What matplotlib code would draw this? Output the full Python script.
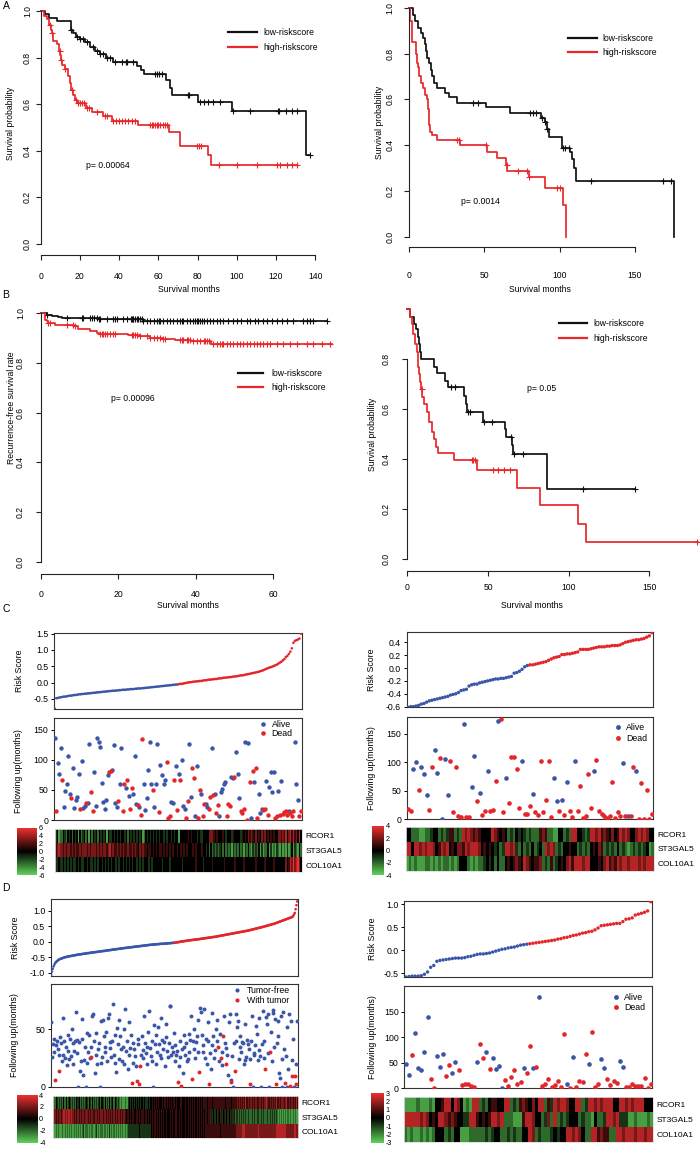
import numpy as np
import matplotlib
matplotlib.use('Agg')
import matplotlib.pyplot as plt
from matplotlib.colors import LinearSegmentedColormap
from matplotlib.lines import Line2D

plt.rcParams['font.family'] = ['Liberation Sans', 'DejaVu Sans']
plt.rcParams['axes.unicode_minus'] = False

# ---------------- Kaplan-Meier data (A, B) ----------------
a1_low_t = [0, 2, 4, 8.5, 15.3, 16.3, 18, 20, 22.6, 25.1, 27.7, 30.2, 33.3, 36.7, 48.9, 51, 52.7, 63.7, 65.9, 66.9, 80, 97.3, 135.2]
a1_low_s = [1.0, 0.985, 0.97, 0.955, 0.92, 0.905, 0.89, 0.88, 0.865, 0.845, 0.83, 0.815, 0.80, 0.78, 0.765, 0.745, 0.73, 0.705, 0.67, 0.64, 0.61, 0.57, 0.38]
a1_low_end = 137.3
a1_low_cens = [15.3, 18.7, 20, 21.4, 23.8, 26.8, 28.5, 30.2, 31.9, 33.6, 35.4, 37.9, 41.3, 43.5, 43.9, 47.2, 58.3, 59.1, 60.1, 61.7,
               75.3, 75.8, 81.2, 83.3, 85.5, 88, 91.4, 98.2, 106.7, 120.8, 121.5, 125, 128.3, 130.5, 137.3]
a1_high_t = [0, 1.7, 3, 4.4, 5, 5.6, 6.1, 8.2, 9.5, 10, 10.4, 11, 12.4, 14.1, 15, 15.5, 16.6, 17.5, 18.7, 23.1, 26, 32, 36.2, 49.8, 65.4, 71, 85.5, 86.6]
a1_high_s = [1.0, 0.98, 0.965, 0.94, 0.92, 0.905, 0.87, 0.86, 0.83, 0.81, 0.79, 0.77, 0.75, 0.72, 0.69, 0.66, 0.64, 0.62, 0.605, 0.585, 0.565, 0.55, 0.53, 0.51, 0.48, 0.42, 0.38, 0.34]
a1_high_end = 130.5
a1_high_cens = [4.6, 5.8, 9.6, 10.6, 12.5, 15.8, 18, 19.2, 20, 20.9, 22.3, 23.8, 24.8, 28.5, 32.8, 34, 37, 38.4, 39.9, 41.5, 43, 44.7,
                46.4, 48.1, 55.7, 56.6, 57.4, 58.3, 59.1, 60, 60.8, 62.2, 63.4, 64.2, 79.5, 80.7, 81.7, 91.1, 99.9, 110.1, 120.3,
                122, 125.4, 127.9, 130.5]

a2_low_t = [0, 3.1, 4.4, 6, 8.4, 9.7, 10.6, 11.5, 12, 13.5, 14.8, 15.7, 16.8, 18.6, 24, 27, 32.3, 51, 67, 87.7, 90, 91.5, 92.8, 101.4, 107, 108.5, 109.5, 110.7, 175.8]
a2_low_s = [1.0, 0.97, 0.94, 0.91, 0.89, 0.87, 0.84, 0.81, 0.78, 0.76, 0.73, 0.70, 0.67, 0.65, 0.63, 0.61, 0.585, 0.565, 0.54, 0.52, 0.50, 0.47, 0.435, 0.39, 0.37, 0.34, 0.30, 0.245, 0.0]
a2_low_end = 175.8
a2_low_cens = [42.9, 46.2, 80.4, 82.2, 84.4, 88.1, 90.3, 91.9, 102.1, 103.4, 106.5, 120.8, 168.3, 173.6]
a2_high_t = [0, 0.7, 2.2, 4.9, 5.3, 6.4, 6.8, 7.9, 9.7, 10.6, 11.9, 12.8, 13.5, 13.7, 14.1, 15.2, 19.0, 34.0, 51.7, 58.3, 64.6, 65.4, 79.7, 90.3, 102.3, 104.3]
a2_high_s = [1.0, 0.94, 0.85, 0.80, 0.76, 0.74, 0.70, 0.67, 0.65, 0.62, 0.60, 0.56, 0.52, 0.49, 0.46, 0.445, 0.425, 0.40, 0.37, 0.345, 0.315, 0.29, 0.26, 0.215, 0.14, 0.0]
a2_high_end = 104.3
a2_high_cens = [31.8, 33.4, 51, 65, 72.2, 78.6, 80, 98, 100.3]

b1_low_t = [0, 1.5, 3, 4.5, 5.5, 15, 26.3]
b1_low_s = [1.0, 0.995, 0.99, 0.985, 0.98, 0.977, 0.97]
b1_low_end = 73.8
b1_low_cens = [1.5, 6.7, 10.6, 10.8, 12.7, 13.2, 13.8, 14.6, 15.1, 15.3, 17, 18.7, 19.2, 19.6, 21.3, 22.2, 23.2, 23.5, 23.7, 23.9,
               24.3, 24.8, 25.2, 25.6, 26.1, 26.5, 27.3, 28.2, 29.1, 29.9, 30.4, 30.8, 31.6, 32.5, 33.4, 34.2, 35.1, 35.9, 36.4,
               36.8, 37.7, 38.5, 39.4, 39.8, 40.2, 40.7, 41.1, 41.5, 42, 42.8, 43.7, 44.5, 45.4, 46.3, 47.1, 48.4, 49.7, 50.7,
               51.8, 53.1, 54, 55.3, 56.1, 57.4, 58.3, 59.6, 60.9, 62.2, 63.5, 65.2, 67.6, 68.6, 69.5, 70.3, 73.8]
b1_high_t = [0, 1.1, 1.5, 2.0, 3.7, 8.6, 9.7, 12.7, 14.4, 15.1, 22.6, 25.6, 28.2, 31.6, 34.7, 38.7, 43.9]
b1_high_s = [1.0, 0.975, 0.97, 0.962, 0.953, 0.949, 0.936, 0.93, 0.922, 0.917, 0.912, 0.907, 0.902, 0.896, 0.891, 0.889, 0.875]
b1_high_end = 75.2
b1_high_cens = [2, 2.4, 6.7, 8.4, 8.9, 15.3, 15.7, 16.2, 16.6, 17, 17.9, 18.7, 19.2, 23.5, 23.9, 24.3, 24.8, 25.6, 27.3, 28.2,
                29.1, 29.9, 30.8, 31.6, 32.1, 35.9, 36.4, 36.8, 37.7, 38.1, 38.5, 39.4, 40.2, 41.1, 42, 42.4, 42.8, 43.3, 44.5,
                45.4, 46.3, 46.7, 47.1, 48, 48.8, 49.7, 50.6, 51.4, 52.3, 53.1, 54, 54.9, 55.7, 56.6, 57.4, 58.3, 59.2, 60.9,
                62.6, 64.3, 66, 68.6, 70.3, 72.5, 74.6]

b2_low_t = [0, 1.7, 4.1, 5.4, 6.4, 7.4, 7.9, 8.5, 16.7, 18.2, 23.3, 25.4, 35.3, 36.2, 36.8, 46.7, 60.5, 61.2, 64.7, 65.5, 86.8]
b2_low_s = [1.0, 0.97, 0.94, 0.92, 0.89, 0.86, 0.83, 0.80, 0.77, 0.745, 0.715, 0.69, 0.655, 0.62, 0.59, 0.55, 0.52, 0.49, 0.455, 0.42, 0.28]
b2_low_end = 141.1
b2_low_cens = [26.9, 29.5, 37.4, 38.6, 47.5, 52.3, 64.3, 65.9, 71.9, 109.1, 141.1]
b2_high_t = [0, 1.7, 2.7, 3.7, 4.8, 5.8, 6.4, 6.8, 7.4, 7.9, 8.3, 9.3, 10.3, 12, 13.6, 15.1, 16.5, 17.8, 19.2, 28.9, 43, 67.8, 82.2, 106, 110.7]
b2_high_s = [1.0, 0.97, 0.94, 0.90, 0.86, 0.83, 0.80, 0.77, 0.74, 0.71, 0.68, 0.65, 0.62, 0.59, 0.55, 0.51, 0.48, 0.45, 0.425, 0.395, 0.355, 0.285, 0.215, 0.14, 0.07]
b2_high_end = 180.4
b2_high_cens = [8.9, 39.9, 40.9, 41.9, 52.9, 56.4, 59.9, 63.6, 179.3]

km_labels = ['low-riskscore', 'high-riskscore']

# ---------------- Risk score panels (C, D) ----------------
genes = ['RCOR1', 'ST3GAL5', 'COL10A1']

c1_risk = [-0.80, -0.48, -0.47, -0.46, -0.45, -0.44, -0.43, -0.43, -0.42, -0.41,
           -0.40, -0.40, -0.39, -0.38, -0.38, -0.37, -0.36, -0.36, -0.35, -0.35,
           -0.34, -0.34, -0.33, -0.33, -0.32, -0.32, -0.31, -0.31, -0.30, -0.30,
           -0.29, -0.29, -0.28, -0.28, -0.27, -0.27, -0.26, -0.26, -0.25, -0.25,
           -0.25, -0.24, -0.24, -0.23, -0.23, -0.22, -0.22, -0.22, -0.21, -0.21,
           -0.20, -0.20, -0.20, -0.19, -0.19, -0.18, -0.18, -0.18, -0.17, -0.17,
           -0.16, -0.16, -0.15, -0.15, -0.14, -0.14, -0.13, -0.13, -0.12, -0.12,
           -0.11, -0.11, -0.10, -0.10, -0.09, -0.09, -0.08, -0.08, -0.07, -0.07,
           -0.06, -0.06, -0.05, -0.04, -0.04, -0.03, -0.02, -0.01, 0.00, 0.01,
           0.01, 0.02, 0.03, 0.03, 0.04, 0.04, 0.05, 0.05, 0.06, 0.07,
           0.07, 0.08, 0.09, 0.09, 0.10, 0.10, 0.11, 0.11, 0.12, 0.13,
           0.13, 0.14, 0.15, 0.15, 0.16, 0.16, 0.17, 0.17, 0.18, 0.19,
           0.19, 0.20, 0.21, 0.22, 0.22, 0.23, 0.24, 0.25, 0.26, 0.27,
           0.28, 0.29, 0.30, 0.31, 0.32, 0.33, 0.35, 0.36, 0.38, 0.40,
           0.42, 0.44, 0.46, 0.47, 0.49, 0.51, 0.53, 0.55, 0.58, 0.61,
           0.64, 0.68, 0.72, 0.78, 0.82, 0.88, 0.95, 1.05, 1.22, 1.28,
           1.30, 1.32, 1.35, 1.50]
c1_time = [137, 15, 95, 76, 120, 66, 22, 48, 59, 107,
           43, 36, 86, 20, 33, 38, 76, 18, 98, 20,
           24, 28, 29, 127, 47, 15, 80, 24, 137, 130,
           121, 61, 30, 18, 33, 75, 79, 81, 83, 124,
           28, 22, 32, 59, 120, 15, 59, 54, 66, 40,
           18, 53, 44, 106, 27, 25, 22, 9, 135, 59,
           17, 37, 83, 130, 59, 50, 22, 59, 126, 14,
           92, 75, 60, 67, 96, 3, 7, 30, 28, 66,
           90, 17, 76, 66, 100, 23, 19, 3, 31, 126,
           38, 86, 70, 6, 90, 3, 50, 43, 6, 26,
           27, 22, 19, 38, 120, 42, 43, 11, 25, 6,
           46, 51, 59, 63, 6, 26, 23, 72, 69, 72,
           113, 77, 37, 15, 11, 18, 129, 0, 128, 63,
           4, 81, 63, 86, 4, 44, 11, 18, 17, 18,
           64, 9, 55, 79, 46, 79, 3, 6, 48, 8,
           64, 10, 14, 15, 9, 15, 11, 6, 15, 130,
           59, 33, 6, 15]
c1_status = ("0100010000 0100000100 0100110000 0000001100 0010011010 1100010110 0000010001 0000111001 "
             "0101000110 0110011011 0011010110 0000111001 0001110101 0101100011 0100001101 0111101110 0011")
c1_heat = ["3412243243 4243414234 2414243424 3434143343 4343443424 3434343412 4343434343 4434344343 4414444454 5444343344 "
           "4466654544 4543444354 4443545465 6546454656 4545454466 5657467575 6474",
           "5676656566 5656556566 6565666565 6566567565 5656565565 5656546565 5455454545 5454545454 4545454544 4545444544 "
           "3424232323 4242323132 3242313242 1323241312 2413121321 3121312413 2142",
           "3343343434 3433434334 4343343434 4343434344 3434434343 4344343434 4434344444 4344443444 4444344444 4445444434 "
           "4444544444 4454444445 4444454444 4445444445 4444454444 4446457686 7864"]

c2_risk = [-0.61, -0.60, -0.60, -0.59, -0.58, -0.56, -0.55, -0.53, -0.51, -0.50,
           -0.49, -0.48, -0.47, -0.46, -0.45, -0.44, -0.42, -0.41, -0.40, -0.38,
           -0.35, -0.34, -0.33, -0.28, -0.26, -0.25, -0.25, -0.23, -0.22, -0.21,
           -0.20, -0.19, -0.18, -0.17, -0.17, -0.16, -0.16, -0.15, -0.14, -0.13,
           -0.08, -0.07, -0.05, -0.02, 0.02, 0.04,
           0.05, 0.05, 0.06, 0.07, 0.08, 0.09, 0.10, 0.12, 0.14, 0.16,
           0.17, 0.18, 0.21, 0.21, 0.22, 0.22, 0.23, 0.24, 0.25, 0.29,
           0.29, 0.29, 0.29, 0.30, 0.31, 0.32, 0.33, 0.33, 0.33, 0.34,
           0.34, 0.35, 0.35, 0.35, 0.36, 0.38, 0.40, 0.41, 0.42, 0.43,
           0.44, 0.44, 0.45, 0.46, 0.48, 0.50, 0.55]
c2_time = [18, 14, 89, 101, 52, 92, 80, 43, 17, 92,
           121, 81, 108, 0, 105, 43, 102, 12, 92, 6,
           4, 167, 4, 4, 57, 111, 32, 46, 8, 15,
           85, 14, 16, 67, 173, 176, 12, 72, 28, 109,
           110, 88, 19, 102, 10, 10, 24, 45, 13, 8,
           103, 12, 33, 102, 4, 72, 32, 14, 33, 7,
           65, 14, 4, 102, 14, 58, 2, 5, 79, 19,
           85, 104, 15, 9, 5, 2, 6, 65, 2, 12,
           5, 98, 5, 5, 5, 91, 85, 0, 64, 0,
           52, 0, 10]
c2_status = "1100100011 0010001111 1011001011 0111011011 1110111011 1111100101 0110111111 0111111111 1010110111 111"
c2_heat = ["44 222 11 223 44 2323 55 232 7676 565 4444 76 5454 232 4343 23222 565 22 11 44 232 77 44 323 7767 565 4645 7676 44 67676 44",
           "77 4 77676776 45 767 4546 65767 776 4545 43423 7767 32423242342 7676 232 44544 23232 45465 2323242321232323412",
           "12121112212121221212 444 2121223 43424 22 454565476545 56232523 4546757 77677 44454 6756576 776777676777"]

d1_risk = [-1.08, -0.97, -0.88, -0.80, -0.74, -0.69, -0.66, -0.63, -0.61, -0.59,
           -0.57, -0.56, -0.55, -0.54, -0.53, -0.52, -0.51, -0.50, -0.50, -0.49,
           -0.48, -0.48, -0.47, -0.47, -0.46, -0.46, -0.45, -0.45, -0.44, -0.44,
           -0.43, -0.43, -0.42, -0.42, -0.41, -0.41, -0.41, -0.40, -0.40, -0.39,
           -0.39, -0.39, -0.38, -0.38, -0.37, -0.37, -0.37, -0.36, -0.36, -0.35,
           -0.35, -0.35, -0.34, -0.34, -0.34, -0.33, -0.33, -0.33, -0.32, -0.32,
           -0.31, -0.31, -0.31, -0.30, -0.30, -0.30, -0.29, -0.29, -0.28, -0.28,
           -0.28, -0.27, -0.27, -0.27, -0.26, -0.26, -0.25, -0.25, -0.25, -0.24,
           -0.24, -0.24, -0.23, -0.23, -0.23, -0.22, -0.22, -0.21, -0.21, -0.21,
           -0.20, -0.20, -0.20, -0.19, -0.19, -0.19, -0.18, -0.18, -0.18, -0.17,
           -0.17, -0.17, -0.16, -0.16, -0.16, -0.15, -0.15, -0.15, -0.14, -0.14,
           -0.14, -0.13, -0.13, -0.13, -0.12, -0.12, -0.12, -0.11, -0.11, -0.11,
           -0.10, -0.10, -0.10, -0.10, -0.09, -0.09, -0.09, -0.09, -0.08, -0.08,
           -0.08, -0.08, -0.07, -0.07, -0.07, -0.07, -0.07, -0.06, -0.06, -0.06,
           -0.06, -0.06, -0.05, -0.05, -0.05, -0.05, -0.04, -0.04, -0.04, -0.04,
           -0.03, -0.03, -0.02, -0.02, -0.02, -0.01, -0.01, 0.00, 0.00, 0.01,
           0.01, 0.01, 0.02, 0.02, 0.03, 0.03, 0.03, 0.04, 0.04, 0.05,
           0.05, 0.05, 0.06, 0.06, 0.06, 0.07, 0.07, 0.07, 0.08, 0.08,
           0.08, 0.09, 0.09, 0.10, 0.10, 0.10, 0.11, 0.11, 0.12, 0.12,
           0.12, 0.13, 0.13, 0.13, 0.14, 0.14, 0.15, 0.15, 0.15, 0.16,
           0.16, 0.17, 0.17, 0.18, 0.18, 0.19, 0.19, 0.20, 0.20, 0.21,
           0.21, 0.22, 0.22, 0.23, 0.23, 0.24, 0.24, 0.25, 0.25, 0.26,
           0.26, 0.27, 0.27, 0.28, 0.28, 0.29, 0.29, 0.30, 0.30, 0.31,
           0.31, 0.32, 0.32, 0.33, 0.33, 0.34, 0.34, 0.35, 0.35, 0.36,
           0.36, 0.37, 0.38, 0.38, 0.39, 0.40, 0.40, 0.41, 0.42, 0.42,
           0.43, 0.44, 0.44, 0.45, 0.46, 0.46, 0.47, 0.48, 0.48, 0.49,
           0.50, 0.51, 0.51, 0.52, 0.53, 0.54, 0.54, 0.55, 0.56, 0.57,
           0.57, 0.58, 0.59, 0.60, 0.61, 0.62, 0.63, 0.64, 0.65, 0.66,
           0.67, 0.68, 0.69, 0.70, 0.71, 0.72, 0.73, 0.74, 0.75, 0.76,
           0.77, 0.78, 0.79, 0.80, 0.83, 0.88, 0.93, 1.05, 1.18, 1.30]
d1_time = [56, 26, 37, 30, 42, 6, 36, 40, 33, 28,
           14, 43, 38, 22, 28, 60, 40, 25, 35, 19,
           45, 31, 24, 42, 27, 50, 20, 38, 31, 40,
           65, 29, 41, 0, 39, 14, 22, 42, 59, 10,
           23, 35, 0, 47, 21, 30, 45, 25, 35, 26,
           62, 63, 40, 12, 28, 47, 20, 33, 38, 0,
           57, 21, 26, 58, 44, 35, 30, 48, 22, 60,
           63, 34, 39, 26, 40, 72, 28, 21, 45, 13,
           51, 37, 24, 58, 44, 33, 22, 35, 20, 50,
           68, 31, 40, 15, 28, 56, 34, 45, 3, 21,
           38, 33, 27, 18, 5, 37, 42, 2, 18, 28,
           44, 25, 32, 62, 38, 29, 20, 35, 48, 66,
           34, 27, 40, 22, 0, 54, 37, 20, 45, 30,
           52, 37, 28, 60, 25, 41, 33, 39, 18, 55,
           43, 31, 26, 38, 70, 70, 28, 35, 30, 47,
           22, 36, 28, 31, 4, 18, 40, 26, 1, 33,
           12, 45, 35, 28, 38, 22, 24, 46, 30, 41,
           62, 7, 40, 50, 33, 25, 39, 44, 30, 58,
           13, 69, 65, 45, 36, 30, 68, 25, 42, 20,
           40, 56, 2, 29, 15, 36, 64, 44, 25, 32,
           50, 58, 40, 35, 22, 46, 25, 19, 30, 44,
           62, 38, 34, 20, 28, 10, 56, 63, 4, 6,
           27, 0, 38, 14, 40, 63, 52, 57, 24, 35,
           44, 30, 39, 38, 20, 55, 23, 26, 41, 37,
           33, 24, 2, 40, 62, 0, 29, 28, 36, 53,
           46, 23, 32, 60, 27, 0, 37, 66, 40, 25,
           15, 61, 55, 63, 29, 0, 30, 48, 22, 64,
           67, 35, 59, 2, 38, 44, 57, 12, 8, 62,
           24, 0, 65, 33, 3, 27, 0, 52, 15, 63,
           1, 57, 23, 9, 42, 0, 9, 20, 2, 57]
d1_status = ("0000010000 1000000000 0000000000 0000000000 0000000001 0000000000 0000000000 0000000000 0000000000 0000000010 "
             "0000100110 0000000000 0000000000 0000000000 0000000000 0000100010 0000000000 0100000000 1000000000 0010000000 "
             "0001001001 0001000010 0001000000 0000000000 0010000000 0000000000 1000001000 0001000000 0000100000 1001001010")
d1_heat = ["3242432342 3243224232 4323423243 2342324323 4232432342 3243234224 4323423243 2342324323 1212112121 1234343343 "
           "4334343434 3434334343 4545445454 5445454545 4454545454 5454455454 4545454544 5454545454 4545555545 5555455555 "
           "5545555555 4555555455 5555565656 6565756565 6565656765 5656565656 7656565656 6575656566 5656756565 6565657656",
           "5656565656 5676767676 7676565656 5656565656 6565656565 5656565656 6565656565 5656565656 5656565654 5454545454 "
           "4545454545 5454545454 4545454545 5454545454 4545454545 5454545454 4545454545 5454545454 4545454545 5435343534 "
           "3534353435 3435343534 3523232323 3232323232 2323232323 3232323232 2323232323 3232312121 1212121212 1212121212",
           "2121212121 1212121212 2121312121 1212121312 2121212121 1213121212 2121212131 1212121212 2121212121 2133333333 "
           "3333343333 3334333333 4545454545 5454545454 4545454545 5454545454 4545454545 5454545454 4545455555 5555555555 "
           "5555455555 5555555555 5556666666 7777666666 6666666666 7666666666 6666666666 6677777777 7777666666 6666776666"]

d2_risk = [-0.58, -0.57, -0.56, -0.56, -0.56, -0.55, -0.52, -0.47, -0.37, -0.33,
           -0.24, -0.22, -0.21, -0.20, -0.19, -0.18, -0.17, -0.17, -0.17, -0.16,
           -0.14, -0.13, -0.11, -0.09, -0.08, -0.08, -0.07, -0.06, -0.04, -0.02,
           0.00, 0.02, 0.03, 0.05, 0.06, 0.07, 0.09, 0.11, 0.12, 0.13,
           0.14, 0.15, 0.16, 0.17, 0.18, 0.19, 0.20, 0.21, 0.22, 0.24,
           0.25, 0.27, 0.28, 0.30, 0.32, 0.33, 0.35, 0.37, 0.38, 0.40,
           0.41, 0.44, 0.48, 0.53, 0.54, 0.55, 0.56, 0.57, 0.58, 0.58,
           0.62, 0.67, 0.68, 0.70, 0.76, 0.78, 0.80, 0.82, 0.85, 1.05]
d2_time = [48, 27, 65, 109, 39, 36, 72, 140, 18, 1,
           64, 42, 67, 25, 46, 30, 52, 35, 7, 8,
           8, 5, 3, 52, 87, 60, 71, 37, 59, 37,
           44, 1, 17, 5, 23, 36, 8, 12, 39, 29,
           82, 39, 42, 179, 5, 8, 18, 3, 7, 14,
           3, 106, 8, 1, 61, 3, 14, 12, 68, 47,
           110, 3, 9, 57, 40, 18, 7, 14, 10, 53,
           42, 3, 2, 8, 5, 4, 5, 20, 1, 9]
d2_status = "0010000011 0001100111 1110110100 0011111101 1010111111 1101011110 1110011110 0111111111"
d2_heat = ["1111211121 445 77 4 76 4 121 77 2324 55 44 77 232 565 464 77 253 76776 44 77 23 77676777 44 7767677 7444",
           "77777676 454 776 565 44 33 77 54545 7767 222 111 5 776 44 23627 2323 444 232 214 223 7767 333 11211121",
           "2121121212 444 232 44 111 2222 2323 44 2232322 44 76 2322 2343 44 77676 4 22 77 5655 22 776777677677"]

# ---------------- drawing ----------------
W, H = 700, 1152
fig = plt.figure(figsize=(W / 100, H / 100), dpi=100)
fig.patch.set_facecolor('white')

KBLACK = '#111111'
KRED = '#e8282b'
BLUE = '#3b55a8'
DRED = '#e3262a'
heat_cmap = LinearSegmentedColormap.from_list('gbr', ['#5fd35a', '#000000', '#ee3030'])


def px_axes(x0, y0, x1, y1):
    return fig.add_axes([x0 / W, 1 - y1 / H, (x1 - x0) / W, (y1 - y0) / H])


def place_xlabel(ax, text, cx, cy, fs):
    ax.set_xlabel(text, fontsize=fs)
    ax.xaxis.set_label_coords(cx / W, 1 - cy / H, transform=fig.transFigure)
    ax.xaxis.label.set_va('center')
    ax.xaxis.label.set_ha('center')


def place_ylabel(ax, text, cx, cy, fs):
    ax.set_ylabel(text, fontsize=fs)
    ax.yaxis.set_label_coords(cx / W, 1 - cy / H, transform=fig.transFigure)
    ax.yaxis.label.set_va('center')
    ax.yaxis.label.set_ha('center')


def km_panel(box, xmax, xticks, yticks, off_px, curves, ylab, ylab_xy, xlab_xy,
             ptext, pxy, leg, xpad, ypad, fs=6.2):
    x0, y0, x1, y1 = box
    ax = px_axes(*box)
    ax.set_xlim(0, xmax)
    ax.set_ylim(0, 1)
    ax.set_facecolor('none')
    for t, s, end, cens, col in curves:
        t = np.asarray(t, float)
        s = np.asarray(s, float)
        tt = np.append(t, end)
        ss = np.append(s, s[-1])
        ax.plot(tt, ss, drawstyle='steps-post', color=col, lw=1.25, clip_on=False)
        idx = np.searchsorted(t, cens, side='right') - 1
        ax.plot(cens, s[idx], ls='', marker='+', ms=3.8, mew=0.8, color=col, clip_on=False)
    for sp in ['top', 'right']:
        ax.spines[sp].set_visible(False)
    ax.spines['bottom'].set_position(('outward', off_px * 0.72))
    ax.spines['bottom'].set_bounds(xticks[0], xticks[-1])
    ax.spines['left'].set_bounds(yticks[0], yticks[-1])
    for sp in ['bottom', 'left']:
        ax.spines[sp].set_linewidth(0.8)
        ax.spines[sp].set_color('#222222')
    ax.set_xticks(xticks)
    ax.set_xticklabels([str(v) for v in xticks])
    ax.set_yticks(yticks)
    ax.set_yticklabels([f'{v:.1f}' for v in yticks])
    ax.tick_params(axis='x', length=3.3, width=0.8, labelsize=fs, pad=xpad, color='#222222')
    ax.tick_params(axis='y', length=3.3, width=0.8, labelsize=fs, pad=ypad, labelrotation=90, color='#222222')
    for lab in ax.get_yticklabels():
        lab.set_va('center')
    place_xlabel(ax, 'Survival months', xlab_xy[0], xlab_xy[1], fs)
    place_ylabel(ax, ylab, ylab_xy[0], ylab_xy[1], fs)
    ax.text(pxy[0], pxy[1], ptext, fontsize=fs, ha='left', va='center')
    # legend
    hx0, hx1, tx, yc1, yc2 = leg
    fs_px = fs * 100 / 72
    th = 1.16 * fs_px
    handles = [Line2D([], [], color=KBLACK, lw=1.6), Line2D([], [], color=KRED, lw=1.6)]
    ax.legend(handles, km_labels, loc='upper left',
              bbox_to_anchor=((hx0 - x0) / (x1 - x0), (y1 - (yc1 - th / 2)) / (y1 - y0)),
              frameon=False, fontsize=fs, handlelength=(hx1 - hx0) / fs_px,
              handletextpad=(tx - hx1) / fs_px, labelspacing=max((yc2 - yc1 - th) / fs_px, 0),
              borderpad=0, borderaxespad=0)
    return ax


def risk_panel(box, vals, ylim, yticks, ylab_xy, s, fs=6.3):
    ax = px_axes(*box)
    vals = np.asarray(vals)
    n = len(vals)
    x = np.arange(n)
    cols = [BLUE if i < n // 2 else DRED for i in range(n)]
    ax.scatter(x, vals, c=cols, s=s, linewidths=0, zorder=3)
    ax.set_xlim(-0.5, n - 0.5)
    ax.set_ylim(*ylim)
    ax.set_xticks([])
    ax.set_yticks(yticks)
    ax.set_yticklabels([f'{v:.1f}' for v in yticks])
    ax.tick_params(axis='y', length=2.5, width=0.7, labelsize=fs, pad=1.5)
    for sp in ax.spines.values():
        sp.set_linewidth(0.8)
        sp.set_color('#333333')
    place_ylabel(ax, 'Risk Score', ylab_xy[0], ylab_xy[1], fs)
    return ax


def follow_panel(box, times, status, ylim, yticks, labels, leg, ylab_xy, s, ms, fs=6.3):
    x0, y0, x1, y1 = box
    ax = px_axes(*box)
    t = np.asarray(times, float)
    st = np.array([int(c) for c in status.replace(' ', '')])
    x = np.arange(len(t))
    ax.scatter(x[st == 0], t[st == 0], c=BLUE, s=s, linewidths=0, zorder=3)
    ax.scatter(x[st == 1], t[st == 1], c=DRED, s=s, linewidths=0, zorder=3)
    ax.set_xlim(-0.5, len(t) - 0.5)
    ax.set_ylim(*ylim)
    ax.set_xticks([])
    ax.set_yticks(yticks)
    ax.set_yticklabels([str(v) for v in yticks])
    ax.tick_params(axis='y', length=2.5, width=0.7, labelsize=fs, pad=1.5)
    for sp in ax.spines.values():
        sp.set_linewidth(0.8)
        sp.set_color('#333333')
    place_ylabel(ax, 'Following up(months)', ylab_xy[0], ylab_xy[1], fs)
    dot_x, text_x, yc1, pitch = leg
    fs_px = fs * 100 / 72
    pad_px = 0.4 * fs_px
    hl_px = 2 * (text_x - dot_x - pad_px)
    th = 1.16 * fs_px
    handles = [Line2D([], [], ls='', marker='o', ms=ms, color=BLUE, mew=0),
               Line2D([], [], ls='', marker='o', ms=ms, color=DRED, mew=0)]
    ax.legend(handles, labels, loc='upper left',
              bbox_to_anchor=((dot_x - hl_px / 2 - x0) / (x1 - x0), (y1 - (yc1 - th / 2)) / (y1 - y0)),
              frameon=False, fontsize=fs, handlelength=hl_px / fs_px, handletextpad=0.4,
              labelspacing=max((pitch - th) / fs_px, 0), borderpad=0, borderaxespad=0)
    return ax


def heat_panel(box, rows, vmax, cbox, cticks, fs=6.0):
    ax = px_axes(*box)
    clean = [r.replace(' ', '') for r in rows]
    n = min(len(r) for r in clean)
    M = np.array([[(int(c) - 4) / 4 * vmax for c in r[:n]] for r in clean])
    ax.imshow(M, aspect='auto', cmap=heat_cmap, vmin=-vmax, vmax=vmax, interpolation='nearest')
    ax.set_xticks([])
    ax.yaxis.tick_right()
    ax.set_yticks(range(len(genes)))
    ax.set_yticklabels(genes)
    ax.tick_params(axis='y', length=0, labelsize=fs, pad=2.5)
    for sp in ax.spines.values():
        sp.set_linewidth(0.6)
        sp.set_color('#dddddd')
    cax = px_axes(*cbox)
    grad = np.linspace(-vmax, vmax, 256)[:, None]
    cax.imshow(grad, origin='lower', aspect='auto', cmap=heat_cmap, vmin=-vmax, vmax=vmax,
               extent=[0, 1, -vmax, vmax])
    cax.set_xticks([])
    cax.yaxis.tick_right()
    cax.set_yticks(cticks)
    cax.set_yticklabels([str(v) for v in cticks])
    cax.tick_params(axis='y', length=0, labelsize=5.2, pad=1.8)
    for sp in cax.spines.values():
        sp.set_visible(False)
    return ax


# ---- A ----
km_panel((40.7, 11, 315.3, 244), 140, [0, 20, 40, 60, 80, 100, 120, 140], [0, 0.2, 0.4, 0.6, 0.8, 1.0], 11,
         [(a1_low_t, a1_low_s, a1_low_end, a1_low_cens, KBLACK),
          (a1_high_t, a1_high_s, a1_high_end, a1_high_cens, KRED)],
         'Survival probability', (10.5, 123.5), (189, 289),
         'p= 0.00064', (23.1, 0.335), (228, 257, 263, 33, 49), xpad=9.0, ypad=3.0)
km_panel((408.7, 7.7, 674.3, 237), 176, [0, 50, 100, 150], [0, 0.2, 0.4, 0.6, 0.8, 1.0], 9.7,
         [(a2_low_t, a2_low_s, a2_low_end, a2_low_cens, KBLACK),
          (a2_high_t, a2_high_s, a2_high_end, a2_high_cens, KRED)],
         'Survival probability', (379, 122), (540, 289),
         'p= 0.0014', (34.7, 0.154), (567.7, 596.7, 602, 39, 54), xpad=14.0, ypad=7.0)
# ---- B ----
km_panel((40.7, 313.3, 335.3, 561.7), 76, [0, 20, 40, 60], [0, 0.2, 0.4, 0.6, 0.8, 1.0], 12.3,
         [(b1_low_t, b1_low_s, b1_low_end, b1_low_cens, KBLACK),
          (b1_high_t, b1_high_s, b1_high_end, b1_high_cens, KRED)],
         'Recurrence-free survival rate', (12, 408), (188, 605),
         'p= 0.00096', (18.1, 0.655), (237.7, 263.3, 271.7, 374, 389), xpad=8.5, ypad=8.0)
km_panel((407.3, 309.4, 699.3, 559), 181, [0, 50, 100, 150], [0, 0.2, 0.4, 0.6, 0.8], 11.7,
         [(b2_low_t, b2_low_s, b2_low_end, b2_low_cens, KBLACK),
          (b2_high_t, b2_high_s, b2_high_end, b2_high_cens, KRED)],
         'Survival probability', (373, 434), (531.7, 605),
         'p= 0.05', (74, 0.684), (559, 587, 593, 324, 340), xpad=5.5, ypad=8.5)

# ---- C ----
risk_panel((54, 632.7, 301.7, 709), c1_risk, (-0.81, 1.53), [-0.5, 0.0, 0.5, 1.0, 1.5], (20, 671), s=3.5)
follow_panel((54, 717.7, 301.7, 820), c1_time, c1_status, (0, 170), [0, 50, 100, 150], ['Alive', 'Dead'],
             (263, 271.7, 724.7, 11), (18.3, 771), s=10, ms=3.3)
heat_panel((55, 828.7, 301.7, 872.3), c1_heat, 6, (17, 828, 36.5, 875), [6, 4, 2, 0, -2, -4, -6])

risk_panel((406.7, 631.7, 653.3, 707.3), c2_risk, (-0.61, 0.565), [-0.6, -0.4, -0.2, 0.0, 0.2, 0.4], (371.7, 670), s=6)
follow_panel((406.7, 716.7, 653.3, 819.3), c2_time, c2_status, (0, 180), [0, 50, 100, 150], ['Alive', 'Dead'],
             (617.7, 626, 727.7, 12.3), (371.7, 768), s=11, ms=3.5)
heat_panel((406, 827, 654, 870.7), c2_heat, 4, (371.7, 826, 383.3, 875), [4, 2, 0, -2, -4])

# ---- D ----
risk_panel((50.7, 899.3, 297.7, 975.7), d1_risk, (-1.10, 1.37), [-1.0, -0.5, 0.0, 0.5, 1.0], (16, 937.5), s=3.5)
follow_panel((50.7, 984, 297.7, 1086.7), d1_time, d1_status, (0, 89.5), [0, 50], ['Tumor-free', 'With tumor'],
             (237, 246.7, 991, 11.7), (15, 1035), s=8, ms=3.0)
heat_panel((52.7, 1095.7, 298.3, 1138.3), d1_heat, 4, (16.7, 1095, 36.7, 1142.7), [4, 2, 0, -2, -4])

risk_panel((404.3, 901, 652.3, 976.7), d2_risk, (-0.573, 1.065), [-0.5, 0.0, 0.5, 1.0], (372, 939), s=6)
follow_panel((404.3, 985.7, 652.3, 1088.3), d2_time, d2_status, (0, 201), [0, 50, 100, 150], ['Alive', 'Dead'],
             (615.7, 624.3, 997.7, 11.6), (373, 1037), s=11, ms=3.5)
heat_panel((404.3, 1096.7, 653.3, 1141.7), d2_heat, 3, (371, 1093, 383.3, 1142.7), [3, 2, 1, 0, -1, -2, -3])

# panel letters
for letter, (lx, ly) in {'A': (6, 6), 'B': (6, 295), 'C': (6, 609), 'D': (6, 888)}.items():
    fig.text(lx / W, 1 - ly / H, letter, fontsize=7.5, ha='center', va='center')

fig.savefig('out.png', dpi=100, facecolor='white')
